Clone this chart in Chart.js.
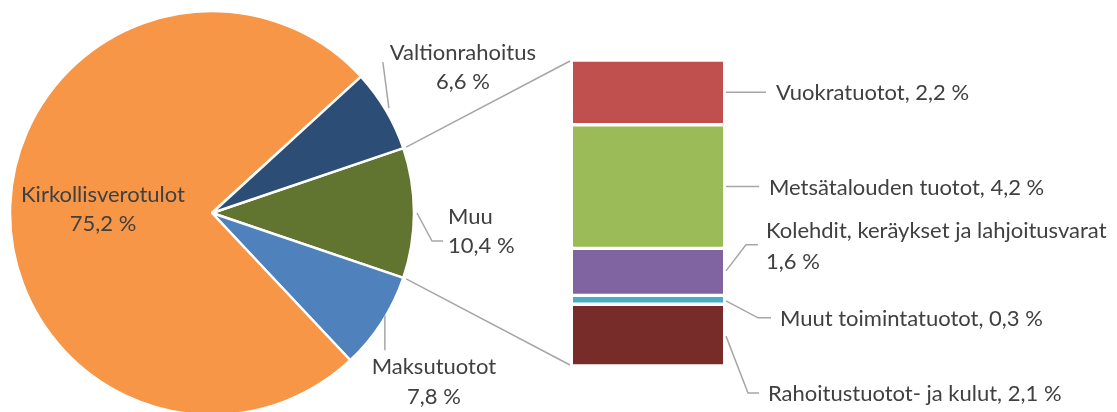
<!DOCTYPE html>
<html>
<head>
<meta charset="utf-8">
<script src="https://cdn.jsdelivr.net/npm/chart.js@4.4.1/dist/chart.umd.min.js"></script>
<style>
  html, body { margin: 0; padding: 0; background: #fff; overflow: hidden; }
  #wrap { position: relative; width: 1117px; height: 412px; }
  #wrap canvas { position: absolute; left: 0; top: 0; }
</style>
</head>
<body>
<div id="wrap">
  <canvas id="pieChart" width="1117" height="412"></canvas>
  <canvas id="barChart" width="1117" height="412"></canvas>
</div>
<script>
// pie: starts with the "Muu" slice, which is broken out into the bar
const pieLabels = ['Muu', 'Maksutuotot', 'Kirkollisverotulot', 'Valtionrahoitus'];
const pieValues = [10.4, 7.8, 75.2, 6.6];
const pieColors = ['#617530', '#4F81BD', '#F79646', '#2C4D75'];

// bar: bottom to top
const barLabels = ['Rahoitustuotot- ja kulut', 'Muut toimintatuotot', 'Kolehdit, keräykset ja lahjoitusvarat', 'Metsätalouden tuotot', 'Vuokratuotot'];
const barValues = [2.1, 0.3, 1.6, 4.2, 2.2];
const barColors = ['#772C2A', '#4BACC6', '#8064A2', '#9BBB59', '#C0504D'];

const FONT = '22px Lato';
const TEXT = '#404040';
const LINE = '#A6A6A6';

const pct = v => v.toFixed(1).replace('.', ',') + ' %';
const pieTotal = pieValues.reduce((a, b) => a + b, 0);
const barTotal = barValues.reduce((a, b) => a + b, 0);

function polyline(ctx, pts) {
    ctx.beginPath();
    ctx.moveTo(pts[0][0], pts[0][1]);
    for (let i = 1; i < pts.length; i++) ctx.lineTo(pts[i][0], pts[i][1]);
    ctx.stroke();
}

// label layout for the pie, offsets from the outer mid point of each slice
const pieLabelLayout = [
    { leader: [[3, 0], [18, 28], [29, 28]], text: [34, 4], align: 'left', lineGap: 29 },
    { leader: [[3, -7], [3, 28]], text: [52, 45], align: 'center', lineGap: 30 },
    { inside: 0.54, text: [0, -14], align: 'center', lineGap: 29 },
    { leader: [[3, -2], [-3, -48]], text: [77, -57], align: 'center', lineGap: 29 }
];

const pieLabelPlugin = {
    id: 'pieLabels',
    afterDraw(chart) {
        const ctx = chart.ctx;
        const arcs = chart.getDatasetMeta(0).data;
        ctx.save();
        ctx.font = FONT;
        ctx.textBaseline = 'middle';
        ctx.strokeStyle = LINE;
        ctx.lineWidth = 1.5;
        arcs.forEach((arc, i) => {
            const lay = pieLabelLayout[i];
            const mid = (arc.startAngle + arc.endAngle) / 2;
            const r = lay.inside ? arc.outerRadius * lay.inside : arc.outerRadius;
            const px = arc.x + Math.cos(mid) * r;
            const py = arc.y + Math.sin(mid) * r;
            if (lay.leader) polyline(ctx, lay.leader.map(p => [px + p[0], py + p[1]]));
            ctx.fillStyle = TEXT;
            ctx.textAlign = lay.align;
            const tx = px + lay.text[0], ty = py + lay.text[1];
            ctx.fillText(pieLabels[i], tx, ty);
            ctx.fillText(pct(pieValues[i]), tx, ty + lay.lineGap);
        });
        ctx.restore();
    }
};

const pieChart = new Chart(document.getElementById('pieChart'), {
    type: 'pie',
    data: {
        labels: pieLabels,
        datasets: [{
            data: pieValues,
            backgroundColor: pieColors,
            borderColor: '#fff',
            borderWidth: 2.5,
            radius: 202,
            clip: false
        }]
    },
    options: {
        responsive: false,
        animation: false,
        rotation: 90 - pieValues[0] / pieTotal * 180,
        layout: { padding: { left: 0, right: 693, top: 14, bottom: 0 } },
        plugins: {
            legend: { display: false },
            tooltip: { enabled: false }
        }
    },
    plugins: [pieLabelPlugin]
});

// label layout for the bar, offsets from the right edge / middle of each segment
const barLabelLayout = [
    { leader: [[3, 1], [25, 58], [36, 58]], text: [45, 59] },
    { leader: [[3, 1], [35, 18], [48, 18]], text: [57, 19] },
    { leader: [[3, -1], [23, -27], [35, -27]], text: [43, -41], split: true, lineGap: 31 },
    { leader: [[3, 0], [36, 0]], text: [46, 1] },
    { leader: [[3, 0], [43, 0]], text: [53, 1] }
];

const barLabelPlugin = {
    id: 'barLabels',
    afterDraw(chart) {
        const ctx = chart.ctx;
        ctx.save();
        ctx.font = FONT;
        ctx.textBaseline = 'middle';
        ctx.textAlign = 'left';
        ctx.strokeStyle = LINE;
        ctx.lineWidth = 1.5;

        let top = Infinity, bottom = -Infinity, left = 0;
        barValues.forEach((v, i) => {
            const bar = chart.getDatasetMeta(i).data[0];
            const right = bar.x + bar.width / 2;
            left = bar.x - bar.width / 2;
            top = Math.min(top, bar.y);
            bottom = Math.max(bottom, bar.base);
            const cy = (bar.y + bar.base) / 2;
            const lay = barLabelLayout[i];
            polyline(ctx, lay.leader.map(p => [right + p[0], cy + p[1]]));
            ctx.fillStyle = TEXT;
            const tx = right + lay.text[0], ty = cy + lay.text[1];
            if (lay.split) {
                ctx.fillText(barLabels[i], tx, ty);
                ctx.fillText(pct(v), tx, ty + lay.lineGap);
            } else {
                ctx.fillText(barLabels[i] + ', ' + pct(v), tx, ty);
            }
        });

        // connectors from the broken-out pie slice to the bar
        const arc = pieChart.getDatasetMeta(0).data[0];
        const rr = arc.outerRadius + 3;
        polyline(ctx, [[arc.x + Math.cos(arc.startAngle) * rr, arc.y + Math.sin(arc.startAngle) * rr], [left - 3, top + 1]]);
        polyline(ctx, [[arc.x + Math.cos(arc.endAngle) * rr, arc.y + Math.sin(arc.endAngle) * rr], [left - 3, bottom - 1]]);
        ctx.restore();
    }
};

const barChart = new Chart(document.getElementById('barChart'), {
    type: 'bar',
    data: {
        labels: [''],
        datasets: barLabels.map((label, i) => ({
            label: label,
            data: [barValues[i]],
            backgroundColor: barColors[i],
            borderColor: '#fff',
            borderWidth: { top: 2, bottom: 2, left: 0, right: 0 },
            borderSkipped: false,
            barPercentage: 1,
            categoryPercentage: 1
        }))
    },
    options: {
        responsive: false,
        animation: false,
        layout: { padding: { left: 573, right: 394, top: 60, bottom: 46 } },
        scales: {
            x: { stacked: true, display: false },
            y: { stacked: true, display: false, min: 0, max: barTotal }
        },
        plugins: {
            legend: { display: false },
            tooltip: { enabled: false }
        }
    },
    plugins: [barLabelPlugin]
});
</script>
</body>
</html>
